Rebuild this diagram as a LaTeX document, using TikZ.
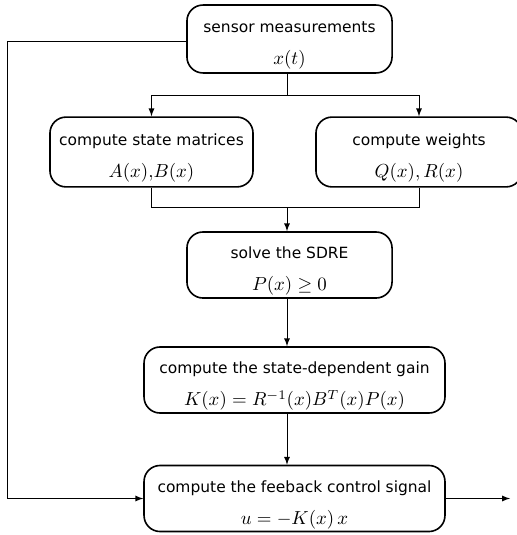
\documentclass[tikz,border=0pt]{standalone}
\usepackage{amsfonts}
\usepackage{amsmath}
\usepackage{fontspec}
\newfontfamily\boxfont{DejaVu Sans}[Scale=0.82]
\usepackage{tikz}

\newcommand{\toprule}{\rule{0pt}{13pt}}

\begin{document}
\begin{tikzpicture}[x=0.53pt,y=-0.53pt,>=latex,
  block/.style={draw,line width=0.85pt,rounded corners=8.5pt,align=center,
    font=\boxfont,inner sep=0.5pt,minimum height=35pt},
  link/.style={line width=0.45pt}]
\useasboundingbox (0,0) rectangle (516,535);
\node[block,minimum width=108.7pt,minimum height=36pt] (sensor) at (289.5,39) {\toprule sensor measurements\\[5pt] $x(t)$};
\node[block,minimum width=107.6pt,minimum height=37pt] (matrices) at (151.5,152) {\toprule compute state matrices\\[5pt] $A(x){,}B(x)$};
\node[block,minimum width=109.2pt,minimum height=37pt] (weights) at (419,152) {\toprule compute weights\\[5pt] $Q(x),R(x)$};
\node[block,minimum width=108.7pt] (sdre) at (289.5,265) {\toprule solve the SDRE\\[5pt] $P(x)\geq 0$};
\node[block,minimum width=159.5pt] (gain) at (294.5,380) {\toprule compute the state-dependent gain\\[5pt] $K(x) = R^{-1}(x)B^T(x)P(x)$};
\node[block,minimum width=159.5pt] (feedback) at (294.5,498.5) {\toprule compute the feeback control signal\\[5pt] $u = -K(x)\,x$};
\coordinate (split) at (287,95);
\coordinate (join) at (287,207);
\coordinate (loop) at (7,0);
\coordinate (out) at (510,0);
% branch to the two matrix blocks
\draw[link] (sensor.south -| split) -- (split);
\draw[link,->] (split) -| (matrices.north);
\draw[link,->] (split) -| (weights.north);
\draw[link] (matrices.south) |- (join);
\draw[link] (weights.south) |- (join);
\draw[link,->] (join) -- (sdre.north -| join);
\draw[link,->] (sdre.south -| join) -- (gain.north -| join);
\draw[link,->] (gain.south -| join) -- (feedback.north -| join);
% feedback path
\draw[link,->] ([yshift=-1.5pt]sensor.west) -- ([yshift=-1.5pt]sensor.west -| loop)
  -- (feedback.west -| loop) -- (feedback.west);
\draw[link,->] (feedback.east) -- (feedback.east -| out);
\end{tikzpicture}
\end{document}
